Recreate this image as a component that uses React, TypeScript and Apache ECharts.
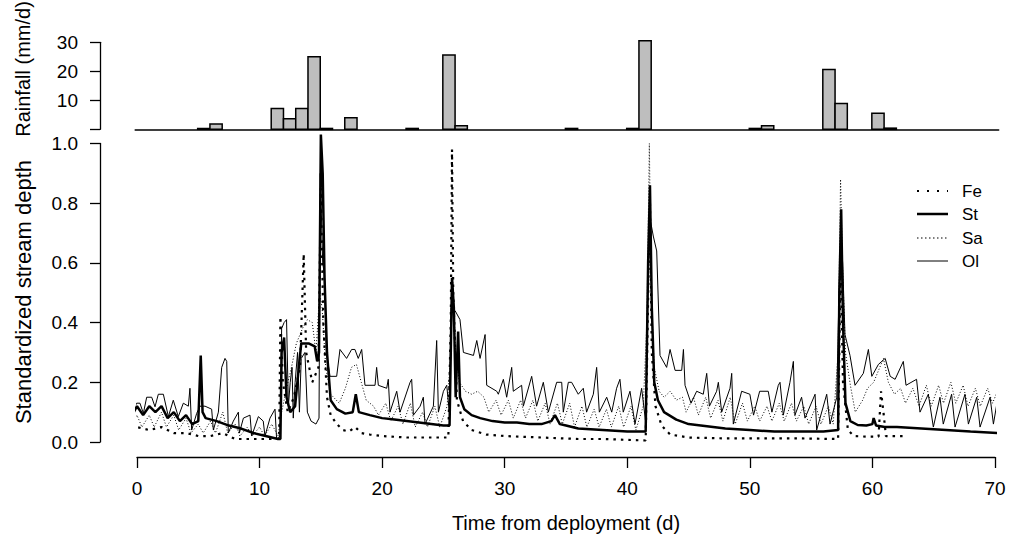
import React, { useEffect, useRef } from "react";
import * as echarts from "echarts";

const FONT = '"Liberation Sans", Arial, Helvetica, sans-serif';

// Rainfall (mm/d) by day
const rainDays = [5, 6, 11, 12, 13, 14, 15, 17, 22, 25, 26, 35, 40, 41, 50, 51, 56, 57, 60, 61];
const rainMm = [0.3, 1.8, 7.2, 3.6, 7.2, 25.0, 0.3, 4.0, 0.3, 25.6, 1.2, 0.3, 0.3, 30.5, 0.3, 1.2, 20.6, 8.9, 5.5, 0.4];

const xTicks = [0, 10, 20, 30, 40, 50, 60, 70];
const depthTicks = [0, 0.2, 0.4, 0.6, 0.8, 1.0];
const rainTicks = [0, 10, 20, 30];

const seriesNames = ["Fe", "St", "Sa", "Ol"];

// Standardized stream depth, [time (d), depth]
const olDepth = [
  [-1.1, 0.13], [-0.84, 0.157], [-0.7, 0.16], [-0.44, 0.096], [-0.03, 0.13], [0.24, 0.13], [0.52, 0.096],
  [0.79, 0.15], [1.2, 0.15], [1.47, 0.118], [1.74, 0.16], [2.15, 0.16], [2.56, 0.085], [2.96, 0.14],
  [3.37, 0.085], [3.78, 0.13], [4.19, 0.12], [4.32, 0.18], [4.46, 0.04], [4.87, 0.096], [5.14, 0.12],
  [5.55, 0.12], [6.09, 0.11], [6.23, 0.04], [6.64, 0.1], [6.91, 0.25], [7.18, 0.28], [7.32, 0.27],
  [7.45, 0.03], [7.86, 0.07], [8.27, 0.1], [8.35, 0.03], [8.68, 0.08], [9.22, 0.09], [9.36, 0.02],
  [9.9, 0.085], [10.3, 0.07], [10.44, 0.02], [10.85, 0.08], [11.26, 0.11], [11.39, 0.01], [11.67, 0.02],
  [11.8, 0.38], [12.0, 0.4], [12.2, 0.41], [12.35, 0.12], [12.5, 0.2], [12.65, 0.25], [12.75, 0.08],
  [12.9, 0.2], [13.1, 0.3], [13.25, 0.1], [13.4, 0.28], [13.7, 0.3], [13.9, 0.1], [14.2, 0.07],
  [14.6, 0.06], [14.85, 0.08], [14.95, 0.9], [15.15, 0.6], [15.3, 0.56], [15.45, 0.3], [15.75, 0.22],
  [16.29, 0.22], [16.56, 0.31], [17.1, 0.28], [17.51, 0.31], [17.78, 0.31], [18.05, 0.28], [18.33, 0.31],
  [18.6, 0.19], [19.42, 0.19], [19.55, 0.25], [19.69, 0.19], [20.37, 0.18], [20.5, 0.21], [20.64, 0.1],
  [21.19, 0.17], [21.46, 0.1], [22.28, 0.2], [22.41, 0.21], [22.55, 0.09], [23.1, 0.12], [23.36, 0.15],
  [23.5, 0.06], [24.18, 0.12], [24.45, 0.34], [24.59, 0.1], [25.0, 0.17], [25.27, 0.19], [25.48, 0.1],
  [25.62, 0.45], [25.95, 0.44], [26.35, 0.41], [26.63, 0.3], [27.45, 0.29], [27.72, 0.34], [27.99, 0.28],
  [28.4, 0.36], [28.53, 0.19], [29.35, 0.17], [29.48, 0.16], [29.89, 0.21], [30.16, 0.15], [30.57, 0.25],
  [30.7, 0.17], [31.38, 0.19], [31.52, 0.12], [32.2, 0.22], [32.6, 0.12], [33.15, 0.2], [33.56, 0.1],
  [34.24, 0.2], [34.65, 0.2], [34.78, 0.1], [35.19, 0.2], [35.46, 0.2], [36.0, 0.16], [36.41, 0.18],
  [36.68, 0.1], [37.23, 0.16], [37.5, 0.25], [37.72, 0.1], [38.32, 0.15], [38.73, 0.1], [39.13, 0.18],
  [39.4, 0.21], [39.67, 0.1], [40.22, 0.17], [40.63, 0.06], [41.17, 0.18], [41.52, 0.06], [41.66, 0.5],
  [41.85, 0.75], [42.12, 0.69], [42.4, 0.64], [42.67, 0.29], [43.21, 0.25], [43.49, 0.31], [43.9, 0.24],
  [44.44, 0.24], [44.58, 0.31], [44.71, 0.19], [45.2, 0.13], [45.66, 0.17], [46.2, 0.16], [46.48, 0.23],
  [46.7, 0.12], [47.29, 0.17], [47.43, 0.2], [47.7, 0.1], [48.38, 0.18], [48.52, 0.23], [48.65, 0.06],
  [49.33, 0.17], [50.0, 0.16], [50.3, 0.09], [50.8, 0.17], [51.5, 0.17], [51.8, 0.1],
  [52.32, 0.19], [52.46, 0.2], [52.73, 0.09], [53.27, 0.2], [53.55, 0.27], [53.68, 0.09], [54.22, 0.15],
  [54.5, 0.08], [55.32, 0.16], [55.45, 0.04], [56.27, 0.16], [56.54, 0.06], [57.09, 0.15], [57.22, 0.4],
  [57.4, 0.7], [57.57, 0.6], [57.76, 0.36], [58.17, 0.29], [58.58, 0.19], [59.26, 0.23], [59.67, 0.31],
  [59.95, 0.22], [60.49, 0.26], [61.04, 0.28], [61.45, 0.22], [61.85, 0.21], [62.52, 0.27], [62.74, 0.19],
  [63.6, 0.21], [63.88, 0.1], [64.56, 0.16], [64.97, 0.05], [65.51, 0.15], [65.78, 0.06], [66.46, 0.16],
  [66.74, 0.05], [67.55, 0.16], [67.83, 0.06], [68.51, 0.15], [68.78, 0.05], [69.6, 0.15], [69.87, 0.06],
  [70.2, 0.14],
];

const saDepth = [
  [-1.1, 0.07], [-0.6, 0.05], [0.0, 0.09], [0.4, 0.05], [1.0, 0.09], [1.4, 0.05], [2.0, 0.1], [2.4, 0.05],
  [3.0, 0.09], [3.4, 0.04], [4.0, 0.08], [4.4, 0.03], [5.0, 0.06], [5.4, 0.03], [6.0, 0.07], [6.4, 0.03],
  [7.0, 0.1], [7.4, 0.03], [8.0, 0.06], [8.4, 0.02], [9.0, 0.05], [9.4, 0.02], [10.0, 0.05], [10.4, 0.02],
  [11.0, 0.06], [11.5, 0.02], [11.8, 0.1], [12.2, 0.18], [12.6, 0.25], [13.0, 0.33], [13.5, 0.38],
  [13.9, 0.41], [14.3, 0.4], [14.6, 0.3], [14.9, 0.5], [15.1, 0.45], [15.4, 0.25], [15.8, 0.16],
  [16.5, 0.13], [17.0, 0.18], [17.5, 0.25], [17.9, 0.26], [18.3, 0.2], [18.7, 0.14], [19.3, 0.12],
  [19.7, 0.09], [20.3, 0.13], [20.7, 0.07], [21.3, 0.12], [21.7, 0.06], [22.3, 0.13], [22.7, 0.05],
  [23.3, 0.1], [23.7, 0.05], [24.3, 0.12], [24.7, 0.05], [25.3, 0.12], [25.6, 0.3], [25.75, 0.55],
  [26.0, 0.3], [26.3, 0.2], [26.8, 0.17], [27.3, 0.16], [27.8, 0.17], [28.3, 0.15], [28.7, 0.1],
  [29.3, 0.14], [29.7, 0.09], [30.3, 0.14], [30.7, 0.08], [31.3, 0.14], [31.7, 0.08], [32.3, 0.14],
  [32.7, 0.07], [33.3, 0.13], [33.7, 0.06], [34.3, 0.13], [34.7, 0.06], [35.3, 0.13], [35.7, 0.05],
  [36.3, 0.12], [36.7, 0.05], [37.3, 0.11], [37.7, 0.05], [38.3, 0.11], [38.7, 0.05], [39.3, 0.12],
  [39.7, 0.05], [40.3, 0.12], [40.7, 0.04], [41.3, 0.12], [41.6, 0.4], [41.8, 1.0], [41.95, 0.5],
  [42.2, 0.25], [42.6, 0.17], [43.0, 0.15], [43.5, 0.17], [44.0, 0.14], [44.5, 0.15], [44.8, 0.1],
  [45.4, 0.15], [45.8, 0.09], [46.4, 0.15], [46.8, 0.08], [47.4, 0.14], [47.8, 0.07], [48.4, 0.15],
  [48.8, 0.06], [49.4, 0.13], [49.8, 0.07], [50.4, 0.12], [50.8, 0.07], [51.4, 0.12], [51.8, 0.07],
  [52.4, 0.13], [52.8, 0.07], [53.4, 0.13], [53.8, 0.07], [54.4, 0.12], [54.8, 0.06], [55.4, 0.12],
  [55.8, 0.06], [56.4, 0.12], [56.8, 0.06], [57.2, 0.3], [57.4, 0.88], [57.55, 0.6], [57.8, 0.3],
  [58.2, 0.19], [58.6, 0.1], [59.2, 0.14], [59.6, 0.18], [60.1, 0.2], [60.5, 0.24], [60.9, 0.28],
  [61.3, 0.2], [61.8, 0.16], [62.3, 0.18], [62.7, 0.13], [63.3, 0.18], [63.8, 0.12], [64.4, 0.19],
  [64.8, 0.12], [65.4, 0.19], [65.8, 0.13], [66.4, 0.2], [66.8, 0.13], [67.4, 0.19], [67.8, 0.12],
  [68.4, 0.18], [68.8, 0.12], [69.4, 0.18], [69.8, 0.13], [70.2, 0.17],
];

const feDepth = [
  [-1.1, 0.06], [0, 0.05], [1, 0.04], [2, 0.05], [3, 0.03], [4, 0.03], [5, 0.02], [6, 0.02], [7, 0.03],
  [8, 0.01], [9, 0.01], [10, 0.01], [11, 0.01], [11.6, 0.01], [11.7, 0.42], [11.9, 0.2], [12.3, 0.1],
  [12.8, 0.15], [13.3, 0.25], [13.6, 0.63], [13.8, 0.3], [14.3, 0.2], [14.8, 0.25], [15.0, 0.85],
  [15.2, 0.4], [15.5, 0.15], [15.8, 0.09], [16.3, 0.06], [16.8, 0.04], [17.3, 0.035], [17.8, 0.05],
  [18.3, 0.03], [19, 0.025], [20, 0.02], [22, 0.015], [24, 0.015], [25.4, 0.015], [25.6, 0.4],
  [25.7, 0.98], [25.8, 0.5], [26.1, 0.14], [26.6, 0.07], [27.3, 0.04], [28.5, 0.025], [30, 0.02],
  [33, 0.015], [36, 0.01], [38, 0.01], [41.5, 0.005], [41.75, 0.6], [41.85, 0.8], [42.0, 0.3],
  [42.3, 0.12], [42.8, 0.055], [43.5, 0.025], [45, 0.015], [48, 0.012], [51, 0.012], [54, 0.012],
  [57.2, 0.01], [57.4, 0.6], [57.6, 0.2], [58.0, 0.04], [58.5, 0.02], [59.5, 0.018], [60.5, 0.018],
  [60.7, 0.17], [60.9, 0.1], [61.1, 0.02], [62.5, 0.02],
];

const stDepth = [
  [-1.1, 0.11], [-0.7, 0.13], [-0.4, 0.09], [0, 0.12], [0.5, 0.09], [1.0, 0.12], [1.5, 0.1], [2.0, 0.12],
  [2.5, 0.08], [3.0, 0.1], [3.5, 0.07], [4.0, 0.09], [4.5, 0.06], [5.0, 0.07], [5.2, 0.29], [5.35, 0.1],
  [5.6, 0.08], [6.5, 0.07], [7.5, 0.055], [8.5, 0.045], [9.5, 0.03], [10.5, 0.02], [11.5, 0.01],
  [11.7, 0.01], [11.8, 0.3], [12.0, 0.35], [12.2, 0.15], [12.5, 0.1], [12.9, 0.12], [13.2, 0.25],
  [13.4, 0.33], [14.0, 0.33], [14.5, 0.32], [14.7, 0.27], [14.85, 0.3], [15.0, 1.03], [15.15, 0.9],
  [15.3, 0.55], [15.5, 0.3], [15.8, 0.14], [16.3, 0.11], [17.0, 0.095], [17.6, 0.1], [17.85, 0.16],
  [18.1, 0.1], [19, 0.09], [20, 0.08], [21, 0.075], [22, 0.07], [23, 0.065], [24, 0.06], [25, 0.055],
  [25.5, 0.055], [25.6, 0.3], [25.7, 0.55], [25.85, 0.45], [26.0, 0.15], [26.2, 0.37], [26.35, 0.15],
  [26.7, 0.11], [27.3, 0.09], [28, 0.08], [29, 0.07], [30, 0.065], [31, 0.065], [32, 0.06], [33, 0.06],
  [33.8, 0.07], [34.1, 0.09], [34.5, 0.06], [35, 0.055], [36, 0.045], [38, 0.04], [40, 0.035],
  [41.5, 0.035], [41.7, 0.6], [41.85, 0.86], [42.0, 0.45], [42.2, 0.2], [42.5, 0.14], [43, 0.1],
  [44, 0.075], [45, 0.06], [46, 0.055], [48, 0.045], [50, 0.04], [52, 0.035], [54, 0.035], [56, 0.035],
  [57.2, 0.04], [57.3, 0.5], [57.45, 0.78], [57.6, 0.4], [57.8, 0.13], [58.2, 0.07], [58.8, 0.057],
  [59.5, 0.055], [60.0, 0.06], [60.1, 0.08], [60.3, 0.055], [61, 0.05], [62, 0.05], [64, 0.045],
  [66, 0.04], [68, 0.035], [70.2, 0.03],
];

export default function App() {
  const ref = useRef<HTMLDivElement>(null);

  useEffect(() => {
    document.body.style.margin = "0";
    if (!ref.current) return;
    const chart = echarts.init(ref.current, undefined, { renderer: "svg" });

    const axisLineStyle = { color: "#000", width: 1.3 };
    const labelStyle = { color: "#000", fontSize: 19, fontFamily: FONT };

    const lineSeries = (name: string, data: number[][], width: number, type: any, z: number) => ({
      name,
      type: "line",
      xAxisIndex: 1,
      yAxisIndex: 1,
      data,
      symbol: "none",
      showSymbol: false,
      clip: false,
      z,
      lineStyle: { color: "#000", width, type, cap: "butt" },
      emphasis: { disabled: true },
    });

    const legendY = [191, 214, 238, 261];
    const legendStyles = [
      { lineWidth: 2, lineDash: [2, 8] },
      { lineWidth: 2.5, lineDash: null },
      { lineWidth: 1.2, lineDash: [1.5, 2.5] },
      { lineWidth: 1, lineDash: null },
    ];
    const legendGraphics: any[] = [];
    seriesNames.forEach((n, i) => {
      legendGraphics.push({
        type: "line",
        shape: { x1: 917, y1: legendY[i], x2: 948, y2: legendY[i] },
        style: { stroke: "#000", lineWidth: legendStyles[i].lineWidth, lineDash: legendStyles[i].lineDash },
      });
      legendGraphics.push({
        type: "text",
        x: 962,
        y: legendY[i],
        style: { text: n, fontSize: 17, fontFamily: FONT, fill: "#000", align: "left", verticalAlign: "middle" },
      });
    });

    const option: any = {
      animation: false,
      backgroundColor: "#fff",
      grid: [
        { left: 135.16, top: 42.3, width: 863.54, height: 87, containLabel: false, outerBoundsMode: "none" },
        { left: 137, top: 143.5, width: 858, height: 298.5, containLabel: false, outerBoundsMode: "none" },
      ],
      xAxis: [
        {
          gridIndex: 0, type: "value", min: -0.15, max: 70.3,
          axisLine: { show: true, onZero: false, lineStyle: { color: "#000", width: 1.5 } },
          axisTick: { show: false }, axisLabel: { show: false }, splitLine: { show: false },
        },
        {
          gridIndex: 1, type: "value", min: xTicks[0], max: xTicks[xTicks.length - 1], interval: 10, offset: 15,
          axisLine: { show: true, onZero: false, lineStyle: axisLineStyle },
          axisTick: { show: true, inside: false, length: 11, lineStyle: axisLineStyle },
          axisLabel: { ...labelStyle, margin: 22, showMinLabel: true, showMaxLabel: true },
          splitLine: { show: false },
        },
      ],
      yAxis: [
        {
          gridIndex: 0, type: "value", min: rainTicks[0], max: rainTicks[rainTicks.length - 1], interval: 10,
          offset: 35.16,
          axisLine: { show: true, onZero: false, lineStyle: axisLineStyle },
          axisTick: { show: true, inside: false, length: 10, lineStyle: axisLineStyle },
          axisLabel: { ...labelStyle, margin: 22, formatter: (v: number) => (v === 0 ? "" : String(v)) },
          splitLine: { show: false },
        },
        {
          gridIndex: 1, type: "value", min: depthTicks[0], max: depthTicks[depthTicks.length - 1], interval: 0.2,
          offset: 37,
          axisLine: { show: true, onZero: false, lineStyle: axisLineStyle },
          axisTick: { show: true, inside: false, length: 10, lineStyle: axisLineStyle },
          axisLabel: { ...labelStyle, margin: 22, formatter: (v: number) => v.toFixed(1) },
          splitLine: { show: false },
        },
      ],
      series: [
        {
          name: "Rainfall",
          type: "custom",
          coordinateSystem: "cartesian2d",
          xAxisIndex: 0,
          yAxisIndex: 0,
          clip: false,
          encode: { x: 0, y: 1 },
          data: rainDays.map((d, i) => [d, rainMm[i]]),
          renderItem: (params: any, api: any) => {
            const d = api.value(0);
            const v = api.value(1);
            const p0 = api.coord([d - 0.05, v]);
            const p1 = api.coord([d + 0.95, 0]);
            return {
              type: "rect",
              shape: { x: p0[0], y: p0[1], width: p1[0] - p0[0], height: p1[1] - p0[1] },
              style: { fill: "#bebebe", stroke: "#000", lineWidth: 1.5 },
            };
          },
        },
        lineSeries("Sa", saDepth, 1, [1, 2], 2),
        lineSeries("Ol", olDepth, 1, "solid", 3),
        lineSeries("Fe", feDepth, 2.2, [2.5, 5], 4),
        lineSeries("St", stDepth, 2.5, "solid", 5),
      ],
      graphic: [
        {
          type: "text", x: 23, y: 292, rotation: Math.PI / 2,
          style: { text: "Standardized stream depth", fontSize: 22, fontFamily: FONT, fill: "#000", align: "center", verticalAlign: "middle" },
        },
        {
          type: "text", x: 23, y: 69, rotation: Math.PI / 2,
          style: { text: "Rainfall (mm/d)", fontSize: 20, fontFamily: FONT, fill: "#000", align: "center", verticalAlign: "middle" },
        },
        {
          type: "text", x: 566, y: 523,
          style: { text: "Time from deployment (d)", fontSize: 20, fontFamily: FONT, fill: "#000", align: "center", verticalAlign: "middle" },
        },
        ...legendGraphics,
      ],
    };

    chart.setOption(option);
    return () => chart.dispose();
  }, []);

  return <div ref={ref} style={{ width: 1009, height: 540 }} />;
}
